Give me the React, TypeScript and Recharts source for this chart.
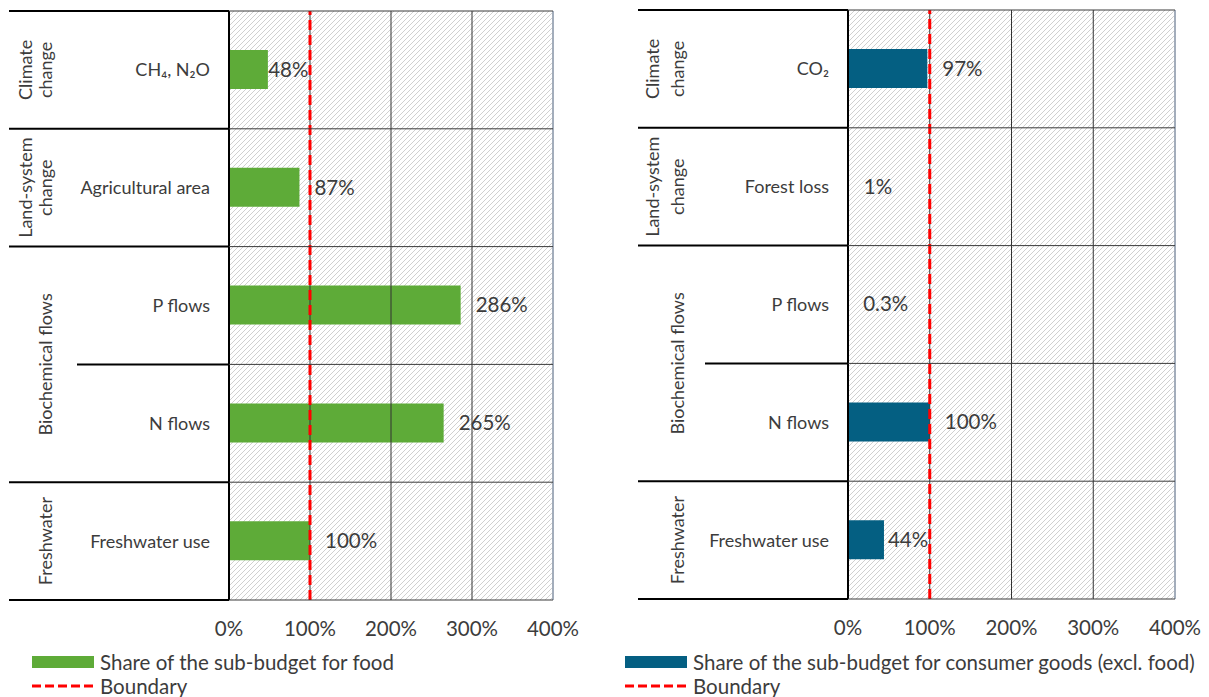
import React from 'react';
import { BarChart, Bar, XAxis, YAxis, CartesianGrid, ReferenceLine, LabelList } from 'recharts';

const foodCategories = ['CH₄, N₂O', 'Agricultural area', 'P flows', 'N flows', 'Freshwater use'];
const foodValues = [48, 87, 286, 265, 100];
const goodsCategories = ['CO₂', 'Forest loss', 'P flows', 'N flows', 'Freshwater use'];
const goodsValues = [97, 1, 0.3, 100, 44];
const rowGroups = ['Climate\nchange', 'Land-system\nchange', 'Biochemical flows', 'Biochemical flows', 'Freshwater'];
const xTicks = [0, 100, 200, 300, 400];
const gridValues = [100, 200, 300];
const boundaryValue = 100;
const foodSeriesName = 'Share of the sub-budget for food';
const goodsSeriesName = 'Share of the sub-budget for consumer goods (excl. food)';
const boundaryName = 'Boundary';

const FONT = 'Lato, "Noto Sans", sans-serif';
const TEXT = '#3c3c3c';
const X_AXIS_H = 40;
const BIG = 20.5;

type Panel = {
  id: string;
  left: number;
  width: number;
  height: number;
  margin: { top: number; right: number; bottom: number; left: number };
  axisWidth: number;
  lineStartX: number;
  innerLineX: number;
  groupX: number;
  groupSpacing: number;
  color: string;
  categories: string[];
  values: number[];
  seriesName: string;
  legendLeft: number;
};

const panels: Panel[] = [
  {
    id: 'food',
    left: 0,
    width: 600,
    height: 697,
    margin: { top: 11, right: 47, bottom: 57, left: 0 },
    axisWidth: 229,
    lineStartX: 9,
    innerLineX: 77,
    groupX: 46,
    groupSpacing: 20,
    color: '#5EAB38',
    categories: foodCategories,
    values: foodValues,
    seriesName: foodSeriesName,
    legendLeft: 32,
  },
  {
    id: 'goods',
    left: 600,
    width: 609,
    height: 697,
    margin: { top: 10, right: 34, bottom: 58, left: 0 },
    axisWidth: 248,
    lineStartX: 38,
    innerLineX: 105,
    groupX: 78,
    groupSpacing: 25,
    color: '#045F82',
    categories: goodsCategories,
    values: goodsValues,
    seriesName: goodsSeriesName,
    legendLeft: 625,
  },
];

function geom(p: Panel) {
  const plotLeft = p.margin.left + p.axisWidth;
  const plotRight = p.width - p.margin.right;
  const plotTop = p.margin.top;
  const plotBottom = p.height - p.margin.bottom - X_AXIS_H;
  const rowH = (plotBottom - plotTop) / p.categories.length;
  return { plotLeft, plotRight, plotTop, plotBottom, rowH };
}

const CategoryTick = (props: any) => {
  const { y, index, payload, panel } = props;
  const p: Panel = panel;
  const g = geom(p);
  const n = p.categories.length;
  const top = y - g.rowH / 2;
  const bottom = y + g.rowH / 2;
  const isGroupStart = index === 0 || rowGroups[index] !== rowGroups[index - 1];
  let span = 1;
  while (index + span < n && rowGroups[index + span] === rowGroups[index]) span++;
  const out: React.ReactNode[] = [];
  out.push(
    <line key="lt" x1={isGroupStart ? p.lineStartX : p.innerLineX} x2={g.plotLeft} y1={top} y2={top} stroke="#000" strokeWidth={2} />
  );
  out.push(<line key="pt" x1={g.plotLeft} x2={g.plotRight} y1={top} y2={top} stroke="#3a3a3a" strokeWidth={1} />);
  if (index === n - 1) {
    out.push(<line key="lb" x1={p.lineStartX} x2={g.plotLeft} y1={bottom} y2={bottom} stroke="#000" strokeWidth={2} />);
    out.push(<line key="pb" x1={g.plotLeft} x2={g.plotRight} y1={bottom} y2={bottom} stroke="#3a3a3a" strokeWidth={1} />);
  }
  out.push(
    <text key="cat" x={g.plotLeft - 19} y={y} dy="0.36em" textAnchor="end" fontFamily={FONT} fontSize={18} fill={TEXT}>
      {payload.value}
    </text>
  );
  if (isGroupStart) {
    const lines = rowGroups[index].split('\n');
    const cy = top + (span * g.rowH) / 2;
    lines.forEach((ln, i) => {
      const cx = p.groupX - (lines.length - 1 - i) * p.groupSpacing;
      out.push(
        <text
          key={'g' + i}
          x={cx}
          y={cy}
          dy="0.36em"
          textAnchor="middle"
          transform={`rotate(-90, ${cx}, ${cy})`}
          fontFamily={FONT}
          fontSize={18}
          fill={TEXT}
        >
          {ln}
        </text>
      );
    });
  }
  return <g>{out}</g>;
};

const ValueLabel = (props: any) => {
  const { x, y, width, height, value } = props;
  const label = `${value}%`;
  const end = Number(x) + Number(width);
  let start = end + 15;
  const w = label.length * 12.6;
  if (value >= 10 && value < boundaryValue) {
    const pxPerUnit = Number(width) / value;
    const bx = Number(x) + boundaryValue * pxPerUnit;
    if (start < bx && start + w > bx - 3) start = bx - w - 4;
  }
  return (
    <text x={start} y={Number(y) + Number(height) / 2} dy="0.36em" textAnchor="start" fontFamily={FONT} fontSize={BIG} fill={TEXT}>
      {label}
    </text>
  );
};

function PanelChart({ p }: { p: Panel }) {
  const data = p.categories.map((name, i) => ({ name, value: p.values[i] }));
  const hatchId = 'hatch-' + p.id;
  return (
    <div style={{ position: 'absolute', left: p.left, top: 0 }}>
      <BarChart width={p.width} height={p.height} data={data} layout="vertical" margin={p.margin} barSize={39}>
        <defs>
          <pattern id={hatchId} patternUnits="userSpaceOnUse" width={5} height={5}>
            <rect width={5} height={5} fill="#ffffff" />
            <path d="M-1,1 l2,-2 M0,5 l5,-5 M4,6 l2,-2" stroke="#d0d0d0" strokeWidth={1} />
          </pattern>
        </defs>
        <CartesianGrid horizontal={false} vertical={false} fill={`url(#${hatchId})`} fillOpacity={1} />
        <XAxis
          type="number"
          domain={[0, 400]}
          ticks={xTicks}
          interval={0}
          axisLine={false}
          tickLine={false}
          tickSize={6}
          tickMargin={15}
          height={X_AXIS_H}
          tickFormatter={(v: number) => `${v}%`}
          tick={{ fill: TEXT, fontSize: BIG, fontFamily: FONT }}
        />
        <YAxis
          type="category"
          dataKey="name"
          width={p.axisWidth}
          interval={0}
          tickLine={false}
          axisLine={{ stroke: '#000', strokeWidth: 2 }}
          tick={(tp: any) => <CategoryTick {...tp} panel={p} />}
        />
        {gridValues.map((v) => (
          <ReferenceLine key={v} x={v} stroke="#333" strokeWidth={1} />
        ))}
        <ReferenceLine x={400} stroke="#a3adbb" strokeWidth={2} />
        <Bar dataKey="value" fill={p.color} isAnimationActive={false} name={p.seriesName}>
          <LabelList dataKey="value" content={ValueLabel} />
        </Bar>
        <ReferenceLine x={boundaryValue} stroke="#FF0000" strokeWidth={3} strokeDasharray="10 5" />
      </BarChart>
      <div
        style={{
          position: 'absolute',
          left: p.legendLeft - p.left,
          top: 650,
          fontFamily: FONT,
          fontSize: BIG,
          color: TEXT,
          whiteSpace: 'nowrap',
        }}
      >
        <div style={{ display: 'flex', alignItems: 'center', height: 24 }}>
          <svg width={62} height={12} style={{ display: 'block' }}>
            <rect width={62} height={12} fill={p.color} />
          </svg>
          <span style={{ marginLeft: 6 }}>{p.seriesName}</span>
        </div>
        <div style={{ display: 'flex', alignItems: 'center', height: 24 }}>
          <svg width={62} height={4} style={{ display: 'block' }}>
            <line x1={0} y1={2} x2={62} y2={2} stroke="#FF0000" strokeWidth={3} strokeDasharray="9 4" />
          </svg>
          <span style={{ marginLeft: 6 }}>{boundaryName}</span>
        </div>
      </div>
    </div>
  );
}

export default function App() {
  return (
    <div style={{ position: 'absolute', left: 0, top: 0, width: 1209, height: 697, background: '#fff', overflow: 'hidden' }}>
      {panels.map((p) => (
        <PanelChart key={p.id} p={p} />
      ))}
    </div>
  );
}
